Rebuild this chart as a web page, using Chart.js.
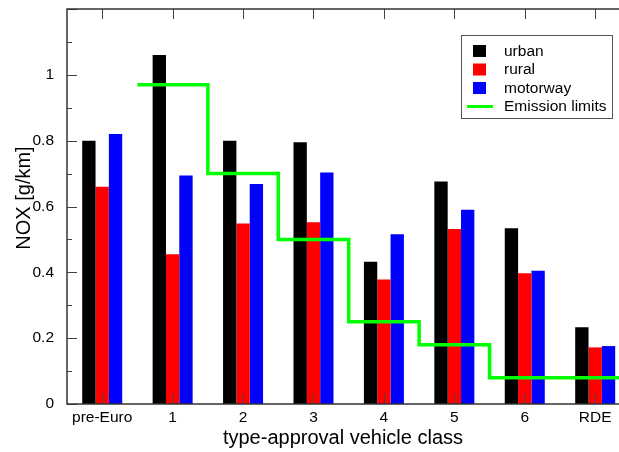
<!DOCTYPE html>
<html>
<head>
<meta charset="utf-8">
<script src="https://cdn.jsdelivr.net/npm/chart.js@4"></script>
<style>
  html, body { margin: 0; padding: 0; background: #fff; overflow: hidden; }
  canvas { display: block; }
</style>
</head>
<body>
<canvas id="chart" width="619" height="452"></canvas>
<script>
// Type-approval classes along the x axis
const categories = ['pre-Euro', '1', '2', '3', '4', '5', '6', 'RDE'];

// Measured NOx emissions per driving situation [g/km]
const urban    = [0.80, 1.06, 0.80, 0.795, 0.432, 0.676, 0.534, 0.233];
const rural    = [0.66, 0.455, 0.548, 0.552, 0.378, 0.532, 0.397, 0.172];
const motorway = [0.82, 0.694, 0.668, 0.703, 0.516, 0.590, 0.405, 0.176];

// Emission limit levels: each level holds from its start position to the next one
const limitStart = [0.5, 1.5, 2.5, 3.5, 4.5, 5.5, 8.5];
const limitValue = [0.97, 0.70, 0.50, 0.25, 0.18, 0.08, 0.08];

const yTitle = 'NOX [g/km]';
const xTitle = 'type-approval vehicle class';

const toPoints = (vals, xs) => vals.map((v, i) => ({ x: xs ? xs[i] : i, y: v }));

const FONT = "'Liberation Sans', Arial, Helvetica, sans-serif";
Chart.defaults.font.family = FONT;
Chart.defaults.color = '#000';

// Frame, inward tick marks, the y title and the boxed legend
const framePlugin = {
  id: 'frame',
  afterDatasetsDraw(chart) {
    const { ctx, chartArea: a, scales: { x, y } } = chart;
    const seg = (x1, y1, x2, y2) => { ctx.beginPath(); ctx.moveTo(x1, y1); ctx.lineTo(x2, y2); ctx.stroke(); };
    ctx.save();
    ctx.strokeStyle = '#444';
    ctx.lineWidth = 1;
    x.ticks.forEach(t => {
      const px = Math.round(x.getPixelForValue(t.value)) + 0.5;
      seg(px, a.bottom, px, a.bottom - 10);
      seg(px, a.top, px, a.top + 10);
    });
    y.ticks.forEach(t => {
      const py = Math.round(y.getPixelForValue(t.value)) + 0.5;
      const r = t.value / 0.2;
      const major = Math.abs(r - Math.round(r)) < 1e-6;
      seg(a.left, py, a.left + (major ? 10 : 5), py);
    });
    ctx.strokeStyle = '#333';
    ctx.lineWidth = 1.5;
    ctx.beginPath();
    ctx.moveTo(a.right + 2, a.top);
    ctx.lineTo(a.left, a.top);
    ctx.lineTo(a.left, a.bottom);
    ctx.lineTo(a.right + 2, a.bottom);
    ctx.stroke();

    // rotated y-axis title
    ctx.save();
    ctx.translate(24, 198);
    ctx.rotate(-Math.PI / 2);
    ctx.font = '20px ' + FONT;
    ctx.fillStyle = '#000';
    ctx.textAlign = 'center';
    ctx.textBaseline = 'middle';
    ctx.fillText(yTitle, 0, 0);
    ctx.restore();

    // legend box
    const lx = 461.5, ly = 35.5, lw = 151, lh = 83;
    ctx.fillStyle = '#fff';
    ctx.fillRect(lx, ly, lw, lh);
    ctx.strokeStyle = '#555';
    ctx.lineWidth = 1;
    ctx.strokeRect(lx, ly, lw, lh);
    ctx.font = '15.5px ' + FONT;
    ctx.textBaseline = 'middle';
    ctx.textAlign = 'left';
    const rows = [51, 69.5, 88, 106.5];
    chart.data.datasets.forEach((ds, i) => {
      const cy = rows[i];
      if (ds.type === 'line') {
        ctx.strokeStyle = ds.borderColor;
        ctx.lineWidth = 3;
        seg(467, cy, 493, cy);
      } else {
        ctx.fillStyle = ds.backgroundColor;
        ctx.fillRect(473, cy - 6, 13, 12);
      }
      ctx.fillStyle = '#000';
      ctx.fillText(ds.label, 504, cy + 0.5);
    });
    ctx.restore();
  }
};

new Chart(document.getElementById('chart'), {
  type: 'bar',
  data: {
    datasets: [
      { label: 'urban', data: toPoints(urban), backgroundColor: '#000000', order: 1 },
      { label: 'rural', data: toPoints(rural), backgroundColor: '#ff0000', order: 1 },
      { label: 'motorway', data: toPoints(motorway), backgroundColor: '#0000ff', order: 1 },
      {
        type: 'line', label: 'Emission limits', data: toPoints(limitValue, limitStart),
        borderColor: '#00ff00', backgroundColor: '#00ff00', borderWidth: 3.5,
        stepped: 'before', pointRadius: 0, fill: false, order: 0
      }
    ]
  },
  options: {
    responsive: false,
    animation: false,
    events: [],
    layout: { padding: { top: 9, right: 0, left: 0, bottom: 0 } },
    datasets: { bar: { categoryPercentage: 0.568, barPercentage: 1, borderWidth: 0 } },
    plugins: { legend: { display: false }, tooltip: { enabled: false } },
    scales: {
      x: {
        type: 'linear',
        min: -0.5,
        max: 7.338,
        offset: false,
        grid: { display: false, offset: false },
        border: { display: false },
        afterBuildTicks: s => { s.ticks = categories.map((_, i) => ({ value: i })); },
        afterFit: s => { s.height = 48; s.paddingLeft = 0; s.paddingRight = 0; },
        ticks: {
          autoSkip: false, maxRotation: 0, padding: -4,
          font: { size: 15.5 },
          callback: v => categories[v] ?? ''
        },
        title: {
          display: true, text: xTitle,
          font: { size: 20 }, padding: { top: 0, bottom: 2 }
        }
      },
      y: {
        min: 0,
        max: 1.2,
        grid: { display: false },
        border: { display: false },
        afterFit: s => { s.width = 67; s.paddingTop = 0; s.paddingBottom = 0; },
        ticks: {
          stepSize: 0.1, autoSkip: false, padding: 5,
          font: { size: 15.5 },
          callback: v => {
            const r = v / 0.2;
            if (Math.abs(r - Math.round(r)) > 1e-6 || v > 1.1) return '';
            return String(Math.round(v * 10) / 10);
          }
        }
      }
    }
  },
  plugins: [framePlugin]
});
</script>
</body>
</html>
